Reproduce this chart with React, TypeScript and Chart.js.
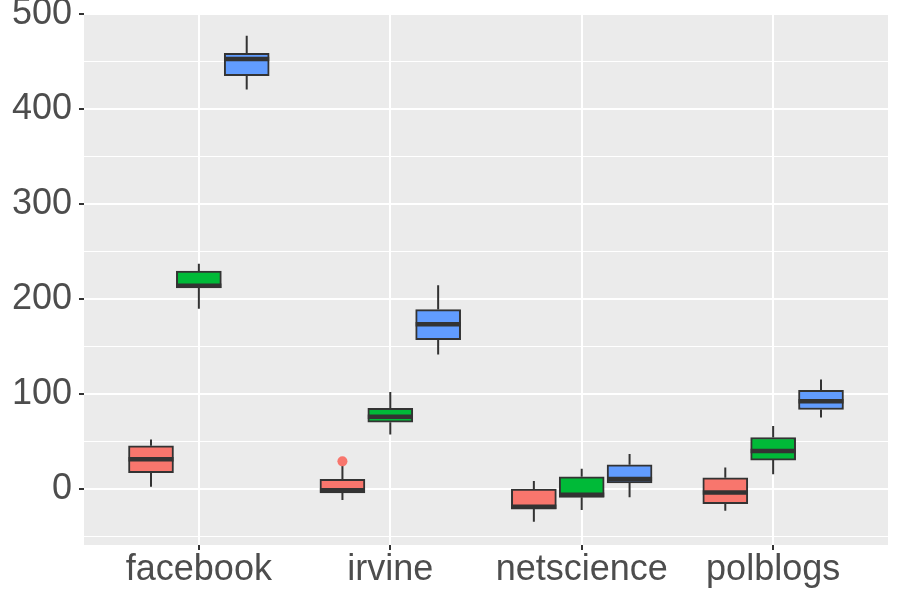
import React, { useEffect, useRef } from 'react';
import { Chart, registerables } from 'chart.js';

Chart.register(...registerables);

// ---- data ----
const categories = ['facebook', 'irvine', 'netscience', 'polblogs'];

const redLower = [2.7, -11.2, -34, -22.5];
const redQ1 = [17.5, -3.6, -20.7, -15.1];
const redMedian = [31.8, -0.8, -18.3, -3.2];
const redQ3 = [45.8, 10.5, 0.3, 12.2];
const redUpper = [52.5, 28, 8.7, 23.1];

const greenLower = [190.1, 57.8, -21.7, 15.8];
const greenQ1 = [211.8, 70.7, -8.4, 30.8];
const greenMedian = [214.1, 76.3, -5.7, 40.5];
const greenQ3 = [229.6, 85.3, 13.2, 54.6];
const greenUpper = [237.4, 102.5, 21.6, 66.8];

const blueLower = [420.5, 141.8, -8.4, 75.6];
const blueQ1 = [435.2, 157.6, 6.9, 84];
const blueMedian = [452.7, 173.6, 10.8, 92.8];
const blueQ3 = [458.6, 189.1, 25.8, 104.3];
const blueUpper = [477.2, 214.6, 37.1, 115.5];

// outliers: category index, series index, value
const outlierCategory = [1];
const outlierSeries = [0];
const outlierValue = [29.5];

const seriesColors = ['#F8766D', '#00BA38', '#619CFF'];
const dodge = [-0.25, 0, 0.25];
const yTickValues = [-50, 0, 50, 100, 150, 200, 250, 300, 350, 400, 450, 500];
const xTickValues = [1, 2, 3, 4];

export default function App() {
  const ref = useRef<HTMLCanvasElement>(null);

  useEffect(() => {
    const series = [
      { lower: redLower, q1: redQ1, median: redMedian, q3: redQ3, upper: redUpper },
      { lower: greenLower, q1: greenQ1, median: greenMedian, q3: greenQ3, upper: greenUpper },
      { lower: blueLower, q1: blueQ1, median: blueMedian, q3: blueQ3, upper: blueUpper },
    ];
    const boxWidth = 45;
    const half = boxWidth / 2;

    const boxPlugin = {
      id: 'boxplotExtras',
      beforeDraw(chart: any) {
        const { ctx, chartArea } = chart;
        ctx.save();
        ctx.fillStyle = '#EBEBEB';
        ctx.fillRect(chartArea.left, chartArea.top, chartArea.right - chartArea.left, chartArea.bottom - chartArea.top);
        ctx.restore();
      },
      beforeDatasetsDraw(chart: any) {
        const { ctx } = chart;
        const xs = chart.scales.x;
        const ys = chart.scales.y;
        ctx.save();
        ctx.strokeStyle = '#333333';
        ctx.lineWidth = 2;
        series.forEach((s, si) => {
          categories.forEach((_, ci) => {
            const x = xs.getPixelForValue(ci + 1 + dodge[si]);
            ctx.beginPath();
            ctx.moveTo(x, ys.getPixelForValue(s.upper[ci]));
            ctx.lineTo(x, ys.getPixelForValue(s.q3[ci]));
            ctx.moveTo(x, ys.getPixelForValue(s.q1[ci]));
            ctx.lineTo(x, ys.getPixelForValue(s.lower[ci]));
            ctx.stroke();
          });
        });
        ctx.restore();
      },
      afterDatasetsDraw(chart: any) {
        const { ctx } = chart;
        const xs = chart.scales.x;
        const ys = chart.scales.y;
        ctx.save();
        ctx.strokeStyle = '#333333';
        ctx.lineWidth = 4.5;
        series.forEach((s, si) => {
          categories.forEach((_, ci) => {
            const x = xs.getPixelForValue(ci + 1 + dodge[si]);
            const y = ys.getPixelForValue(s.median[ci]);
            ctx.beginPath();
            ctx.moveTo(x - half, y);
            ctx.lineTo(x + half, y);
            ctx.stroke();
          });
        });
        ctx.restore();
      },
    };

    const barDatasets = series.map((s, si) => ({
      type: 'bar' as const,
      label: 'series' + (si + 1),
      data: categories.map((_, ci) => ({ x: ci + 1 + dodge[si], y: [s.q1[ci], s.q3[ci]] })),
      backgroundColor: seriesColors[si],
      borderColor: '#333333',
      borderWidth: 2,
      borderSkipped: false,
      barThickness: boxWidth,
      grouped: false,
      order: 2,
    }));

    const outlierDataset = {
      type: 'scatter' as const,
      label: 'outliers',
      data: outlierValue.map((v, i) => ({ x: outlierCategory[i] + 1 + dodge[outlierSeries[i]], y: v })),
      backgroundColor: outlierValue.map((_, i) => seriesColors[outlierSeries[i]]),
      borderWidth: 0,
      pointRadius: 5,
      order: 1,
    };

    const font = { family: '"Liberation Sans", Arial, sans-serif', size: 36, lineHeight: 1 };

    const chart = new Chart(ref.current as HTMLCanvasElement, {
      type: 'bar',
      data: { datasets: [...barDatasets, outlierDataset] as any },
      options: {
        animation: false,
        responsive: false,
        layout: { padding: { top: 13, right: 12, left: 0, bottom: 0 } },
        plugins: { legend: { display: false }, tooltip: { enabled: false } },
        scales: {
          x: {
            type: 'linear',
            min: 0.4,
            max: 4.6,
            offset: false,
            afterBuildTicks: (scale: any) => {
              scale.ticks = xTickValues.map((v) => ({ value: v }));
            },
            afterFit: (scale: any) => {
              scale.height = 55;
              scale.paddingLeft = 0;
              scale.paddingRight = 0;
            },
            grid: { offset: false, color: '#FFFFFF', lineWidth: 2, tickColor: '#333333', tickLength: 5, tickWidth: 2 },
            border: { display: false },
            ticks: {
              autoSkip: false,
              maxRotation: 0,
              padding: 2,
              color: '#4D4D4D',
              font,
              callback: (v: any) => categories[Math.round(Number(v)) - 1] ?? '',
            },
          },
          y: {
            type: 'linear',
            min: -58.5,
            max: 501.1,
            afterBuildTicks: (scale: any) => {
              scale.ticks = yTickValues.map((v) => ({ value: v }));
            },
            afterFit: (scale: any) => {
              scale.width = 84;
              scale.paddingTop = 0;
              scale.paddingBottom = 0;
            },
            grid: {
              color: '#FFFFFF',
              lineWidth: (c: any) => (c.tick && c.tick.value % 100 === 0 ? 2 : 1),
              tickColor: (c: any) => (c.tick && c.tick.value % 100 === 0 ? '#333333' : 'rgba(0,0,0,0)'),
              tickLength: 5,
              tickWidth: 2,
            },
            border: { display: false },
            ticks: {
              autoSkip: false,
              padding: 7,
              color: '#4D4D4D',
              font,
              callback: (v: any) => (Number(v) % 100 === 0 ? String(v) : ''),
            },
          },
        },
      },
      plugins: [boxPlugin],
    });

    return () => chart.destroy();
  }, []);

  return (
    <div style={{ position: 'absolute', left: 0, top: 0, width: 900, height: 600, background: '#FFFFFF' }}>
      <canvas ref={ref} width={900} height={600} style={{ display: 'block' }} />
    </div>
  );
}
